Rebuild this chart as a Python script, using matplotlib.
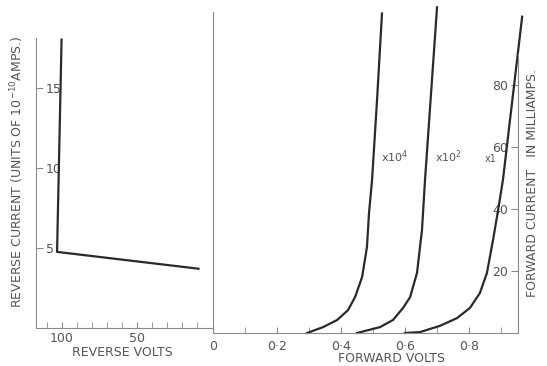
import matplotlib.pyplot as plt
import numpy as np

# Reverse characteristic (left panel)
rev_volts = [100, 103, 9]
rev_current = [18.0, 4.75, 3.7]

# Forward characteristics (right panel), current scaled by the factor shown
fwd_x1e4_volts = [0.294, 0.344, 0.388, 0.422, 0.444, 0.466, 0.481, 0.4875, 0.497, 0.5125, 0.528]
fwd_x1e4_curr = [0.0, 1.9, 4.2, 7.4, 11.6, 18.1, 27.7, 38.7, 49.4, 75, 103]

fwd_x1e2_volts = [0.45, 0.522, 0.5625, 0.594, 0.616, 0.6375, 0.653, 0.6625, 0.70]
fwd_x1e2_curr = [0.0, 1.9, 4.2, 8.1, 11.6, 19.4, 33.2, 49.4, 105]

fwd_x1_volts = [0.60, 0.647, 0.709, 0.7625, 0.803, 0.834, 0.856, 0.875, 0.891, 0.906, 0.966]
fwd_x1_curr = [0.0, 0.3, 2.3, 4.8, 8.1, 12.9, 19.4, 30, 39.7, 49.4, 102]

curve_labels = ['x10$^4$', 'x10$^2$', 'x1']

txt = '#555555'
ln = '#2a2a2a'
ax_col = '#8a8a8a'

W, H = 547, 366
fig = plt.figure(figsize=(5.47, 3.66), dpi=100)

# left panel: reverse
axL = fig.add_axes([36 / W, 1 - 328 / H, (212 - 36) / W, (328 - 38) / H])
axL.plot(rev_volts, rev_current, color=ln, lw=1.6)
axL.set_xlim(117, 0)
axL.set_ylim(0, 18.1)
for s in ['top', 'right']:
    axL.spines[s].set_visible(False)
for s in ['left', 'bottom']:
    axL.spines[s].set_color(ax_col)
axL.set_yticks([5, 10, 15])
axL.set_xticks([100, 50])
axL.set_xticks(np.arange(10, 111, 10), minor=True)
axL.tick_params(axis='y', direction='in', pad=-7, colors=ax_col, labelcolor=txt, labelsize=9, length=5)
for t in axL.get_yticklabels():
    t.set_ha('left')
axL.tick_params(axis='x', which='both', direction='in', colors=ax_col, labelcolor=txt, labelsize=9, length=4, pad=3)

# right panel: forward
axR = fig.add_axes([213 / W, 1 - 333 / H, (518 - 213) / W, (333 - 12) / H])
for vx, cy in [(fwd_x1e4_volts, fwd_x1e4_curr), (fwd_x1e2_volts, fwd_x1e2_curr), (fwd_x1_volts, fwd_x1_curr)]:
    axR.plot(vx, cy, color=ln, lw=1.6, clip_on=False)
axR.set_xlim(0, 0.953)
axR.set_ylim(0, 103.5)
axR.spines['top'].set_visible(False)
for s in ['left', 'bottom', 'right']:
    axR.spines[s].set_color(ax_col)
axR.spines['right'].set_bounds(0, 90)
axR.yaxis.tick_right()
axR.set_yticks([20, 40, 60, 80])
axR.tick_params(axis='y', direction='in', pad=-7, colors=ax_col, labelcolor=txt, labelsize=9, length=5)
for t in axR.get_yticklabels():
    t.set_ha('right')
axR.set_xticks([0, 0.2, 0.4, 0.6, 0.8])
axR.set_xticklabels(['0', '0·2', '0·4', '0·6', '0·8'])
axR.set_xticks(np.arange(0.1, 0.91, 0.1), minor=True)
axR.tick_params(axis='x', which='both', direction='in', colors=ax_col, labelcolor=txt, labelsize=9, length=4, pad=5)

# curve labels
axR.text(0.525, 57, curve_labels[0], color=txt, fontsize=8, va='center', ha='left')
axR.text(0.695, 57, curve_labels[1], color=txt, fontsize=8, va='center', ha='left')
axR.text(0.85, 56, curve_labels[2], color=txt, fontsize=7, va='center', ha='left')

# axis titles
fig.text(17 / W, 1 - 172 / H, 'REVERSE CURRENT (UNITS OF 10$^{-10}$AMPS.)', rotation=90,
         ha='center', va='center', color=txt, fontsize=9)
fig.text(122 / W, 1 - 353 / H, 'REVERSE VOLTS', ha='center', va='center', color=txt, fontsize=9)
fig.text(392 / W, 1 - 359 / H, 'FORWARD VOLTS', ha='center', va='center', color=txt, fontsize=9)
fig.text(532 / W, 1 - 183 / H, 'FORWARD CURRENT   IN MILLIAMPS.', rotation=90,
         ha='center', va='center', color=txt, fontsize=9)

fig.savefig('out.png', dpi=100)
